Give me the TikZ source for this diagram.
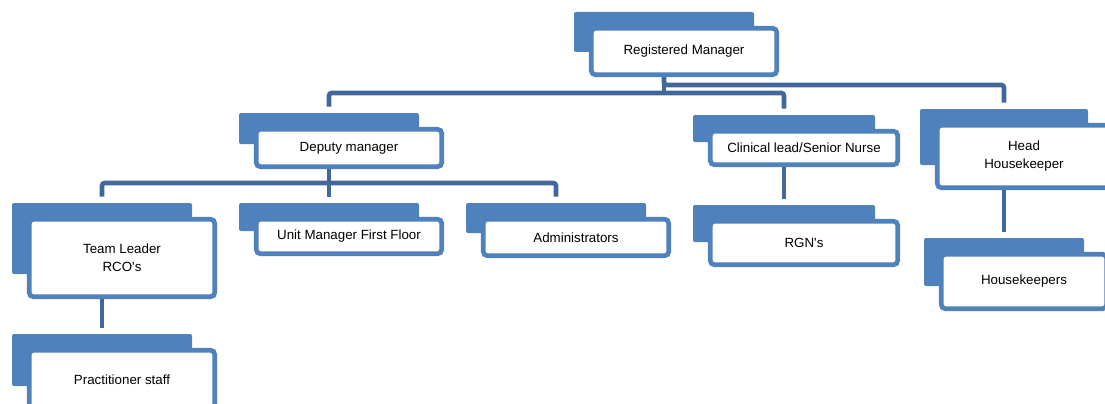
\documentclass[tikz,border=0pt]{standalone}
\usepackage{fontspec}
\setmainfont{Liberation Sans}[Ligatures=TeXOff]
\usepackage{xcolor}
\usepackage{tikz}
\usetikzlibrary{fit}

\definecolor{tabblue}{HTML}{4F81BD}
\definecolor{linkblue}{HTML}{41689A}

\begin{document}
\begin{tikzpicture}[x=0.75pt, y=-0.75pt,
	tab/.style={fill=tabblue, rounded corners=1.5pt, inner sep=0},
	card/.style={draw=tabblue, fill=white, line width=3.5pt, rounded corners=3pt, inner sep=0, align=center, font=\fontsize{10}{13.5}\selectfont},
	link/.style={draw=linkblue, line width=3.5pt, rounded corners=2pt, shorten >=4.5pt}]
	\useasboundingbox (0,0) rectangle (1105,403);
	\coordinate (busa) at (0,85);
	\coordinate (busb) at (0,93);
	\coordinate (busc) at (0,183);
	\foreach \n/\xa/\ya/\xb/\yb/\t in {rm/589/26/779/77/Registered Manager,
		dm/254/127/444/169/Deputy manager,
		cl/708/129/900/167/{Clinical lead/Senior Nurse},
		hh/935/123/1113/190/Head\\Housekeeper,
		tl/27/217/217/299/Team Leader\\RCO's,
		um/254/217/444/256/Unit Manager First Floor,
		ad/481/217/671/258/Administrators,
		rgn/708/219/900/267/RGN's,
		hk/939/252/1109/311/Housekeepers,
		ps/27/348/217/411/Practitioner staff} {
		\pgfmathsetmacro\w{(\xb-\xa-4.6)*0.75}
		\pgfmathsetmacro\h{(\yb-\ya-4.6)*0.75}
		\node[tab, fit={(\xa-15,\ya-14) (\xb-25,\yb-25)}] (tab\n) {};
		\node[card, minimum width=\w pt, minimum height=\h pt] (\n) at ({(\xa+\xb)/2},{(\ya+\yb)/2}) {\t};
	};
	% top level
	\draw[link] (tabrm |- rm.south) -- (tabrm |- busa) -| (tabhh.north);
	\draw[link, shorten >=0pt] (tabrm |- rm.south) -- (tabrm |- busb);
	\draw[link, shorten <=4.5pt] (tabdm.north) |- (tabcl |- busb) -- (tabcl.north);
	% deputy manager
	\draw[link, shorten <=4.5pt] (tabtl.north) |- (tabad |- busc) -- (tabad.north);
	\draw[link] (tabdm |- dm.south) -- (tabum.north);
	% single lines
	\draw[link] (tabtl |- tl.south) -- (tabps.north);
	\draw[link] (tabcl |- cl.south) -- (tabrgn.north);
	\draw[link] (tabhh |- hh.south) -- (tabhk.north);
\end{tikzpicture}
\end{document}
